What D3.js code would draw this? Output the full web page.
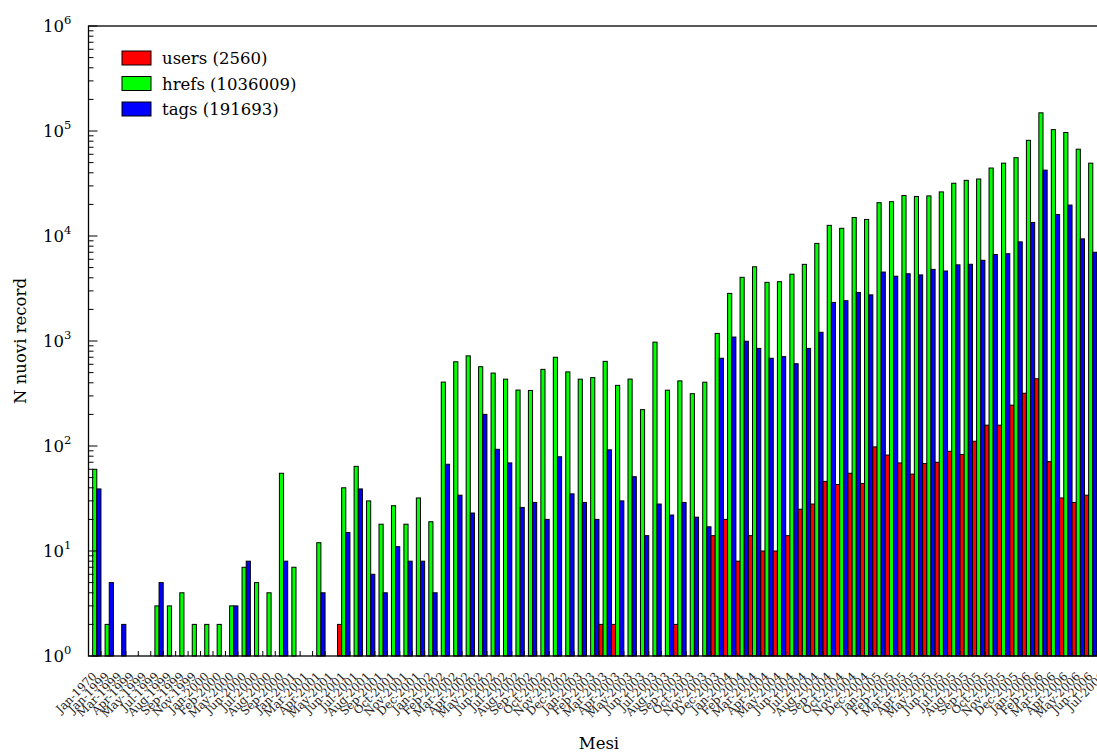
<!DOCTYPE html>
<html><head><meta charset="utf-8">
<script src="https://cdn.jsdelivr.net/npm/d3@7"></script>
<style>body{margin:0;background:#fff}svg{display:block}</style>
</head><body>
<script>
const months = ["Jan-1970","Jan-1999","Mar-1999","Apr-1999","May-1999","Jul-1999","Aug-1999","Sep-1999","Nov-1999",
"Jan-2000","Feb-2000","May-2000","Jun-2000","Jul-2000","Aug-2000","Sep-2000",
"Jan-2001","Mar-2001","Apr-2001","May-2001","Jun-2001","Jul-2001","Aug-2001","Sep-2001","Oct-2001","Nov-2001","Dec-2001",
"Jan-2002","Feb-2002","Mar-2002","Apr-2002","May-2002","Jun-2002","Jul-2002","Aug-2002","Sep-2002","Oct-2002","Nov-2002","Dec-2002",
"Jan-2003","Feb-2003","Mar-2003","Apr-2003","May-2003","Jun-2003","Jul-2003","Aug-2003","Sep-2003","Oct-2003","Nov-2003","Dec-2003",
"Jan-2004","Feb-2004","Mar-2004","Apr-2004","May-2004","Jun-2004","Jul-2004","Aug-2004","Sep-2004","Oct-2004","Nov-2004","Dec-2004",
"Jan-2005","Feb-2005","Mar-2005","Apr-2005","May-2005","Jun-2005","Jul-2005","Aug-2005","Sep-2005","Oct-2005","Nov-2005","Dec-2005",
"Jan-2006","Feb-2006","Mar-2006","Apr-2006","May-2006","Jun-2006","Jul-2006"];

const users = [0,0,0,0,0,0,0,0,0,0,0,0,0,0,0,0,0,0,0,0,
2,0,0,0,0,0,0,0,0,0,0,0,0,0,0,0,0,0,0,0,
0,2,2,0,0,0,0,2,0,0,
14,20,8,14,10,10,14,25,28,46,43,55,44,
98,82,69,54,68,70,89,83,111,158,158,245,
318,437,71,32,29,34,null];

const hrefs = [60,2,0,0,0,3,3,4,2,2,2,3,7,5,4,55,7,0,12,0,
40,64,30,18,27,18,32,19,406,634,722,569,495,433,341,338,537,700,508,433,
448,640,378,434,222,975,340,417,315,405,
1181,2840,4040,5090,3620,3670,4330,5370,8500,12630,11840,15000,14380,
20770,21230,24300,23800,24100,26300,31800,33900,34900,44400,49400,55700,
81500,149000,103000,96800,67100,49400,null];

const tags = [39,5,2,0,0,5,0,0,0,0,0,3,8,0,0,8,0,0,4,0,
15,39,6,4,11,8,8,4,67,34,23,200,93,69,26,29,20,79,35,29,
20,92,30,51,14,28,22,29,21,17,
685,1090,995,850,685,710,608,850,1210,2330,2420,2900,2750,
4535,4140,4370,4260,4810,4640,5310,5380,5870,6660,6780,8790,
13450,42400,16000,19700,9390,7000,null];

const seriesNames = ["users","hrefs","tags"];
const seriesTotals = ["2560","1036009","191693"];
const seriesColors = ["#ff0000","#00ff00","#0000ff"];
const yTickExps = [0,1,2,3,4,5,6];

(function draw() {
const W = 1097, H = 753;
const FONT = "'DejaVu Serif', serif";
const pL = 88.5, pT = 26, pB = 656;
const step = 12.45;
const pR = pL + months.length * step;

const svg = d3.select("body").append("svg").attr("width", W).attr("height", H)
  .style("font-family", FONT);

const x = d3.scaleBand().domain(months).range([pL, pR]).paddingInner(0).paddingOuter(0);
const xs = d3.scaleBand().domain(seriesNames).range([0, x.bandwidth()]);
const y = d3.scaleLog().domain([1, 1e6]).range([pB, pT]);

const seriesData = [users, hrefs, tags];
const rows = [];
months.forEach((m, i) => {
  seriesNames.forEach((s, j) => {
    const v = seriesData[j][i];
    if (v != null && v > 1) rows.push({m, s, v, j});
  });
});

svg.append("g").selectAll("rect").data(rows).join("rect")
  .attr("x", d => x(d.m) + xs(d.s))
  .attr("y", d => y(d.v))
  .attr("width", xs.bandwidth())
  .attr("height", d => pB - y(d.v))
  .attr("fill", d => seriesColors[d.j])
  .attr("stroke", "#000").attr("stroke-width", 1);

svg.append("rect").attr("x", pL).attr("y", pT).attr("width", pR - pL + 6).attr("height", pB - pT)
  .attr("fill", "none").attr("stroke", "#000").attr("stroke-width", 1.3);

const yTicks = y.ticks(60).filter(v => v >= 1 && v <= 1e6);
const yt = svg.append("g");
yTicks.forEach(v => {
  const major = Math.abs(Math.log10(v) - Math.round(Math.log10(v))) < 1e-9;
  yt.append("line").attr("x1", pL).attr("x2", pL + (major ? 9 : 5))
    .attr("y1", y(v)).attr("y2", y(v)).attr("stroke", "#000").attr("stroke-width", 1);
});
yTickExps.forEach(e => {
  const t = svg.append("text").attr("x", 43).attr("y", y(Math.pow(10, e)) + 6)
    .attr("font-size", 16.5).attr("fill", "#000");
  t.append("tspan").text("10");
  t.append("tspan").attr("dy", -8).attr("font-size", 11.5).text(e);
});

const xt = svg.append("g");
months.forEach(m => {
  const xe = x(m) + x.bandwidth();
  xt.append("line").attr("x1", xe).attr("x2", xe).attr("y1", pB).attr("y2", pB - 5)
    .attr("stroke", "#000").attr("stroke-width", 1);
});
svg.append("g").selectAll("text").data(months).join("text")
  .attr("transform", m => `translate(${x(m) + x.bandwidth() - 3.5},${pB + 21}) rotate(-45)`)
  .attr("text-anchor", "end")
  .attr("font-size", 11.5).attr("fill", "#222")
  .text(m => m);

svg.append("text").attr("x", (pL + pR) / 2).attr("y", 749).attr("text-anchor", "middle")
  .attr("font-size", 16.5).text("Mesi");
svg.append("text").attr("transform", `translate(26,${(pT + pB) / 2}) rotate(-90)`)
  .attr("text-anchor", "middle").attr("font-size", 16.5).text("N nuovi record");

const lg = svg.append("g");
seriesNames.forEach((s, j) => {
  const yy = 51 + j * 25.5;
  lg.append("rect").attr("x", 122).attr("y", yy).attr("width", 29).attr("height", 14)
    .attr("fill", seriesColors[j]).attr("stroke", "#000").attr("stroke-width", 1);
  lg.append("text").attr("x", 162).attr("y", yy + 13).attr("font-size", 16.5)
    .text(`${s} (${seriesTotals[j]})`);
});
})();
</script>
</body></html>
